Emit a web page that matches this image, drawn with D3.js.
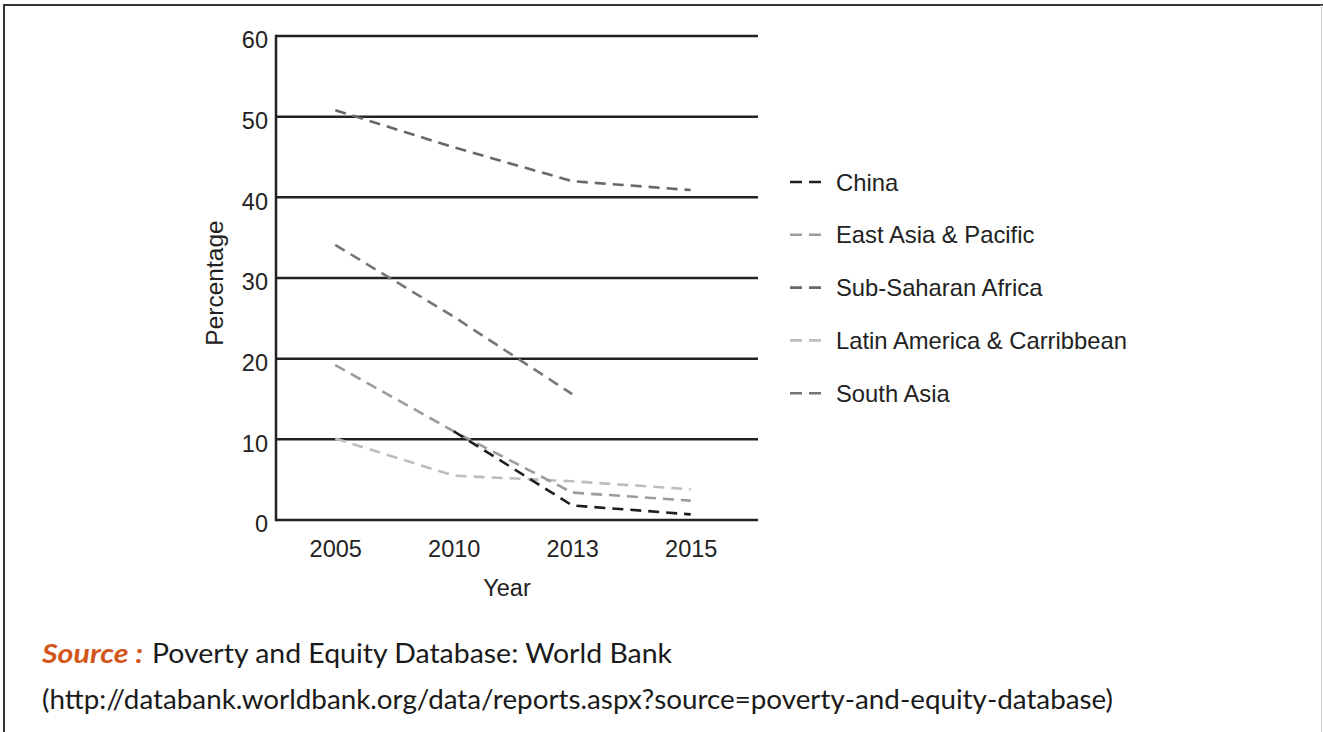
<!DOCTYPE html>
<html>
<head>
<meta charset="utf-8">
<script src="https://cdn.jsdelivr.net/npm/d3@7"></script>
<style>
  html, body { margin: 0; padding: 0; background: #fff; }
  svg { display: block; }
</style>
</head>
<body>
<svg id="chart" width="1323" height="732"></svg>
<script>
// Poverty headcount ratio by region (%)
const years = ["2005", "2010", "2013", "2015"];
const yTicks = [0, 10, 20, 30, 40, 50, 60];

const seriesNames = ["China", "East Asia & Pacific", "Sub-Saharan Africa", "Latin America & Carribbean", "South Asia"];
const china        = [null, 11.0, 1.8, 0.7];
const eastAsia     = [19.2, 11.0, 3.4, 2.4];
const subSaharan   = [50.8, 46.2, 42.0, 40.9];
const latinAmerica = [10.1, 5.5, 4.8, 3.8];
const southAsia    = [34.1, 25.2, 15.6, null];
const seriesColors = ["#1e1e1e", "#9c9c9c", "#686868", "#bdbdbd", "#767676"];

const series = [china, eastAsia, subSaharan, latinAmerica, southAsia].map((vals, i) => ({
  name: seriesNames[i],
  color: seriesColors[i],
  points: years.map((yr, j) => ({ year: yr, value: vals[j] }))
}));

const svg = d3.select("#chart");
const chartFont = "'Liberation Sans', Arial, sans-serif";

// outer frame
svg.append("line").attr("x1", 3).attr("x2", 1323).attr("y1", 5).attr("y2", 5)
  .attr("stroke", "#333").attr("stroke-width", 2);
svg.append("line").attr("x1", 4).attr("x2", 4).attr("y1", 5).attr("y2", 732)
  .attr("stroke", "#333").attr("stroke-width", 2);
svg.append("line").attr("x1", 1321.5).attr("x2", 1321.5).attr("y1", 5).attr("y2", 732)
  .attr("stroke", "#cfcfcf").attr("stroke-width", 1);

const plotLeft = 276, plotRight = 758, plotTop = 36, plotBottom = 520;

const x = d3.scalePoint().domain(years).range([plotLeft, 750]).padding(0.5);
const y = d3.scaleLinear().domain([0, 60]).range([plotBottom, plotTop]);

// horizontal gridlines with labels
const yAxis = d3.axisLeft(y).tickValues(yTicks).tickSize(0).tickPadding(8)
  .tickFormat(d3.format("d"));
const gy = svg.append("g").attr("transform", `translate(${plotLeft},0)`).call(yAxis);
gy.select(".domain").remove();
gy.selectAll("text")
  .attr("font-family", chartFont).attr("font-size", 23.5).attr("fill", "#222")
  .attr("dy", "0.5em");

svg.append("g").selectAll("line").data(yTicks).join("line")
  .attr("x1", plotLeft).attr("x2", plotRight)
  .attr("y1", d => y(d)).attr("y2", d => y(d))
  .attr("stroke", "#222").attr("stroke-width", 2.5);

// vertical axis line
svg.append("line").attr("x1", plotLeft).attr("x2", plotLeft)
  .attr("y1", plotTop - 1.25).attr("y2", plotBottom + 1.25)
  .attr("stroke", "#222").attr("stroke-width", 2.5);

const xAxis = d3.axisBottom(x).tickSize(0).tickPadding(20);
const gx = svg.append("g").attr("transform", `translate(0,${plotBottom})`).call(xAxis);
gx.select(".domain").remove();
gx.selectAll("text")
  .attr("font-family", chartFont).attr("font-size", 23.5).attr("fill", "#222");

// axis titles
svg.append("text")
  .attr("x", 507).attr("y", 596)
  .attr("text-anchor", "middle")
  .attr("font-family", chartFont).attr("font-size", 23.5).attr("fill", "#222")
  .text("Year");
svg.append("text")
  .attr("transform", "translate(223,283) rotate(-90)")
  .attr("text-anchor", "middle")
  .attr("font-family", chartFont).attr("font-size", 24.5).attr("fill", "#222")
  .text("Percentage");

// series lines
const line = d3.line()
  .defined(d => d.value !== null)
  .x(d => x(d.year))
  .y(d => y(d.value));

const drawOrder = [2, 4, 3, 1, 0];
svg.append("g").selectAll("path").data(drawOrder.map(i => series[i])).join("path")
  .attr("d", d => line(d.points))
  .attr("fill", "none")
  .attr("stroke", d => d.color)
  .attr("stroke-width", 2.6)
  .attr("stroke-linejoin", "round")
  .attr("stroke-dasharray", "11,7");

// legend
const legend = svg.append("g");
const legendRow = legend.selectAll("g").data(series).join("g")
  .attr("transform", (d, i) => `translate(790,${182 + i * 52.8})`);
legendRow.append("line")
  .attr("x1", 0).attr("x2", 31).attr("y1", 0).attr("y2", 0)
  .attr("stroke", d => d.color).attr("stroke-width", 2.6)
  .attr("stroke-dasharray", "12,7");
legendRow.append("text")
  .attr("x", 46).attr("y", 0).attr("dy", "0.36em")
  .attr("font-family", chartFont).attr("font-size", 23.8).attr("fill", "#222")
  .text(d => d.name);

// source note
const noteFont = "Lato, 'Open Sans', sans-serif";
svg.append("text")
  .attr("x", 42).attr("y", 663)
  .attr("font-family", noteFont).attr("font-size", 26)
  .attr("font-weight", "bold").attr("font-style", "italic")
  .attr("fill", "#d2561c")
  .attr("textLength", 101).attr("lengthAdjust", "spacingAndGlyphs")
  .text("Source :");
svg.append("text")
  .attr("x", 152).attr("y", 663)
  .attr("font-family", noteFont).attr("font-size", 26).attr("fill", "#1a1a1a")
  .attr("textLength", 520).attr("lengthAdjust", "spacingAndGlyphs")
  .text("Poverty and Equity Database: World Bank");
svg.append("text")
  .attr("x", 42).attr("y", 709)
  .attr("font-family", noteFont).attr("font-size", 26).attr("fill", "#1a1a1a")
  .attr("textLength", 1071).attr("lengthAdjust", "spacingAndGlyphs")
  .text("(http://databank.worldbank.org/data/reports.aspx?source=poverty-and-equity-database)");
</script>
</body>
</html>
